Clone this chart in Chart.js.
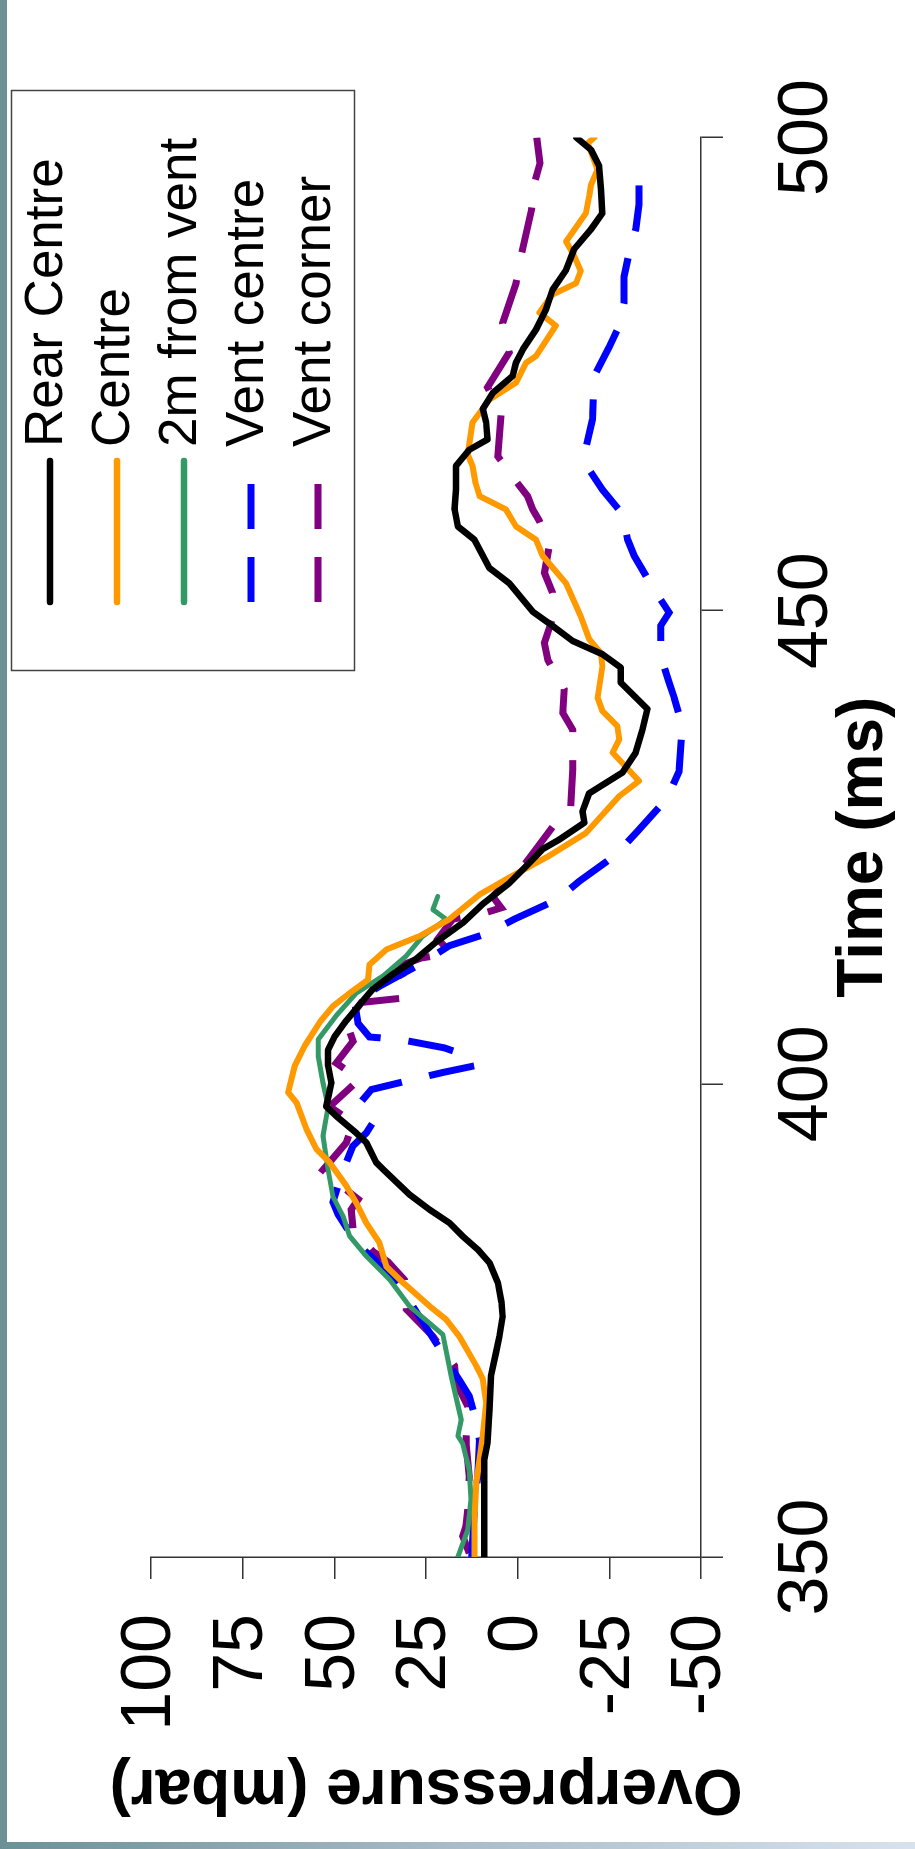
<!DOCTYPE html>
<html>
<head>
<meta charset="utf-8">
<script src="https://cdn.jsdelivr.net/npm/chart.js@4.4.1/dist/chart.umd.min.js"></script>
<style>
  html, body { margin: 0; padding: 0; background: #fff; }
  body { width: 915px; height: 1849px; position: relative; overflow: hidden; }
  #rot {
    position: absolute; left: 0; top: 0;
    width: 1849px; height: 915px;
    transform-origin: 0 0;
    transform: translateY(1849px) rotate(-90deg);
  }
  #c { display: block; width: 1849px; height: 915px; }
  .edgeLeft { position: absolute; left: 0; top: 0; width: 7px; height: 1849px; background: #6b9196; }
  .edgeBottom { position: absolute; left: 0; bottom: 0; width: 915px; height: 7px;
    background: linear-gradient(to right, #6b9196, #a9bcc8 50%, #d8e2ec); }
</style>
</head>
<body>
<div id="rot"><canvas id="c" width="1849" height="915"></canvas></div>
<div class="edgeLeft"></div>
<div class="edgeBottom"></div>
<script>
// axis ticks
const timeTicks = [350, 400, 450, 500];
const pressureTicks = [-50, -25, 0, 25, 50, 75, 100];

// Rear Centre
const rearT = [350, 354, 358, 360.3, 362.1, 365.6, 369.1, 371.6, 373.3, 375.4, 376.9, 379, 381.1, 382.5, 383.9, 385.3,
  386.7, 388.3, 390.9, 391.7, 393.8, 394.8, 396.6, 397.6, 400.1, 401.9, 403.6, 405, 406.7, 408.2, 410, 411.6, 413.2,
  415, 417, 419, 421.2, 423, 424.8, 425.8, 427.6, 428.8, 430.7, 432.9, 435, 437.4, 439.6, 442.4, 444, 445.4, 446.8,
  448.4, 449.9, 452.9, 454.5, 457.5, 458.9, 460.7, 462.8, 465.3, 467, 468.1, 469.9, 471.3, 473, 474.8, 476.2, 477.6,
  479.7, 481.8, 483.9, 486, 488.2, 490.3, 492, 494.5, 497, 498.7, 500];
const rearV = [9.1, 9.1, 9.1, 9.1, 8.2, 7.7, 7.3, 5.9, 5.0, 4.1, 4.4, 5.4, 7.7, 10.9, 15.0, 18.6,
  24.0, 29.5, 36.5, 38.6, 41.3, 44.0, 49.5, 52.2, 50.8, 51.7, 51.7, 49.9, 46.7, 43.5, 39.5, 34.0, 27.7,
  22.2, 15.0, 9.5, 2.3, -2.3, -6.8, -11.3, -18.2, -17.7, -19.5, -28.6, -32.2, -34.0, -35.4, -28.1, -28.1, -23.1, -15.0,
  -9.5, -4.1, 2.3, 7.7, 11.8, 16.3, 17.2, 16.8, 16.8, 13.2, 8.2, 8.6, 9.5, 6.8, 1.4, 0.45, -1.4,
  -5.0, -7.7, -9.5, -13.2, -15.4, -20.0, -23.1, -22.7, -22.2, -20.0, -16.0];

// Centre
const centreT = [350, 354, 357.8, 362.8, 366.3, 368.8, 370.2, 373.3, 375.1, 376.5, 379, 380.7, 383.2, 385.3, 387.4,
  389.2, 391.7, 393.1, 395.2, 398, 399.1, 401.9, 404, 406.5, 408.2, 409.6, 411, 412.6, 414.2, 415.6, 417.4, 420,
  421.8, 424.1, 426.5, 430.4, 432, 435, 436.4, 437.8, 439.4, 440.8, 444.1, 445.5, 447, 449.4, 452.9, 455.8, 457.5,
  458.9, 460.7, 462.1, 463.5, 465.3, 466.5, 469.9, 472.3, 474.1, 476.2, 476.9, 480.1, 481.5, 483.4, 484.6, 485.9,
  487.8, 489, 492, 493.8, 495, 496.6, 499.4, 500];
const centreV = [11.8, 11.8, 11.3, 9.5, 8.6, 9.5, 11.3, 15.9, 19.5, 24.0, 31.3, 35.8, 37.7, 41.3, 44.0,
  46.7, 51.3, 54.9, 57.6, 60.3, 62.6, 60.8, 58.1, 54.0, 50.4, 45.8, 40.8, 40.4, 35.8, 26.8, 18.6, 10.4,
  2.3, -8.6, -18.6, -27.7, -33.1, -25.9, -27.7, -27.2, -23.1, -21.8, -23.1, -22.7, -19.5, -17.2, -13.2, -6.8, -5.0,
  0.45, 3.2, 10.4, 11.5, 12.3, 13.6, 12.3, 7.7, 0.45, -2.3, -5.0, -10.4, -5.9, -9.5, -15.9, -17.2,
  -15.0, -13.2, -18.6, -19.5, -20.0, -21.8, -19.1, -20.9];

// 2m from vent
const twoMT = [350, 352.9, 356.1, 359.2, 362, 362.8, 364.5, 369.1, 373.5, 374.7, 376.5, 379.3, 381.8, 383.9, 386,
  388.1, 390.9, 394.5, 397.6, 400.1, 402.9, 404.7, 407.2, 409.6, 411.4, 413.5, 415.6, 417.4, 418.4, 419.8];
const twoMV = [16.3, 13.6, 12.7, 13.2, 15.0, 16.3, 15.4, 18.1, 20.4, 24.0, 29.5, 34.9, 41.3, 45.8, 47.6,
  50.4, 51.7, 53.1, 51.7, 53.1, 54.4, 54.4, 49.5, 44.0, 36.7, 30.4, 25.9, 19.5, 23.1, 21.8];

// Vent centre
const ventCentreT = [350, 351.5, 355, 358.5, 362.4, 365, 367, 368.7, 370.5, 372.6, 376.5, 379.3, 381.2, 383.2, 386.2,
  387.5, 390.4, 393.4, 394.8, 395.9, 396.8, 398.2, 399.4, 400.5, 401.2, 401.9, 402.9, 403.8, 404.7, 404.95, 406.4,
  408.7, 410.3, 412.6, 414.6, 415.9, 417.4, 419.5, 421.4, 424.2, 426.7, 430.2, 433, 437.8, 440.8, 442.4, 445.2,
  448.4, 449.8, 452.8, 455.8, 457.5, 460.2, 462.8, 464.9, 467.2, 470.2, 474.8, 477.9, 480.1, 482.5, 485.3, 487.8,
  490.3, 492.9, 495.2, 496.8, 497.5];
const ventCentreV = [12.5, 12.3, 11.8, 10.9, 10.4, 11.8, 13.2, 15.9, 19.0, 22.2, 28.6, 34.0, 38.5, 44.0, 49.0,
  50.4, 48.1, 45.0, 41.3, 39.5, 42.2, 42.5, 39.9, 28.1, 20.4, 11.8, 13.2, 20.0, 32.2, 40.4, 43.5,
  44.5, 37.7, 26.8, 18.6, 8.2, 0.9, -10.9, -16.8, -26.8, -32.7, -40.8, -44.0, -44.9, -42.7, -41.3, -39.0,
  -39.0, -41.3, -36.3, -31.8, -30.0, -28.6, -23.1, -19.5, -18.6, -20.4, -20.9, -25.0, -27.7, -29.0, -29.0, -30.4,
  -32.2, -33.1, -33.1, -34.9, -34.0];

// Vent corner
const ventCornerT = [350.4, 352.2, 353.3, 355, 357, 358.5, 362.1, 365.9, 368.4, 370.2, 373.3, 376.2, 379.3, 381.2,
  382.3, 384.6, 386.7, 387.8, 388.5, 390.9, 393.8, 395.9, 397.6, 400.5, 402.2, 404.5, 406.5, 408.6, 409.1, 410.7,
  412.4, 413.3, 413.8, 415.3, 417.4, 418.1, 418.6, 419.8, 421.3, 423.4, 424.8, 427.6, 429.3, 433.2, 437.4, 439.2,
  441.7, 444.8, 446.6, 449.2, 451.9, 454, 456.8, 459.5, 460.7, 462.1, 463.9, 466.3, 470.9, 473.6, 477.3, 480.4,
  484.6, 487.8, 492.4, 495.4, 497.3, 500];
const ventCornerV = [13.2, 15.0, 14.1, 13.6, 13.4, 13.2, 14.1, 13.6, 16.8, 17.2, 23.1, 30.4, 30.9, 35.4,
  39.5, 44.9, 45.4, 43.5, 45.8, 53.1, 46.7, 44.9, 51.3, 43.1, 49.5, 44.9, 46.7, 42.6, 30.4, 30.4,
  32.7, 26.3, 18.1, 21.8, 17.7, 8.6, 4.5, 6.8, 3.2, -2.3, -5.0, -10.4, -14.5, -15.0, -15.0, -12.3,
  -12.7, -8.2, -7.3, -9.5, -9.5, -7.3, -8.6, -5.9, -4.1, -2.7, 0.9, 5.4, 4.5, 8.2, 2.3, 4.1,
  0.45, -1.1, -3.8, -4.7, -6.1, -5.2];

const FONT = '"Liberation Sans", Arial, Helvetica, sans-serif';

function pts(ts, vs) {
  return ts.map((t, i) => ({ x: t, y: vs[i] }));
}

// boxed legend sitting over the upper right corner of the plot
const boxLegend = {
  id: 'boxLegend',
  afterDraw(chart) {
    const ctx = chart.ctx;
    ctx.save();
    ctx.fillStyle = '#fff';
    ctx.fillRect(1178, 11, 580, 343);
    ctx.strokeStyle = '#444';
    ctx.lineWidth = 1.5;
    ctx.strokeRect(1178.5, 11.5, 580, 343);
    ctx.font = '53px ' + FONT;
    ctx.textBaseline = 'middle';
    chart.data.datasets.forEach((ds, i) => {
      const y = 50 + i * 67;
      const dashed = !!ds.borderDash;
      ctx.beginPath();
      ctx.setLineDash(dashed ? [45, 28] : []);
      ctx.lineCap = dashed ? 'butt' : 'round';
      ctx.strokeStyle = ds.borderColor;
      ctx.lineWidth = dashed ? 7 : 6.5;
      ctx.moveTo(1247, y);
      ctx.lineTo(1388, y);
      ctx.stroke();
      ctx.setLineDash([]);
      ctx.fillStyle = '#000';
      ctx.fillText(ds.label, 1402, y - 3);
    });
    ctx.restore();
  }
};

function lineSet(label, data, color, width, dash) {
  return {
    label,
    data,
    borderColor: color,
    backgroundColor: color,
    borderWidth: width,
    borderDash: dash,
    borderCapStyle: dash ? 'butt' : 'round',
    borderJoinStyle: dash ? 'miter' : 'round',
    pointRadius: 0,
    tension: 0,
    fill: false
  };
}

new Chart(document.getElementById('c'), {
  type: 'line',
  data: {
    datasets: [
      lineSet('Rear Centre', pts(rearT, rearV), '#000000', 6.5),
      lineSet('Centre', pts(centreT, centreV), '#ff9900', 6),
      lineSet('2m from vent', pts(twoMT, twoMV), '#339966', 5),
      lineSet('Vent centre', pts(ventCentreT, ventCentreV), '#0000ff', 7, [46, 28]),
      lineSet('Vent corner', pts(ventCornerT, ventCornerV), '#800080', 7, [46, 28])
    ]
  },
  options: {
    responsive: false,
    animation: false,
    devicePixelRatio: 1,
    layout: { padding: { top: 151, right: 137.5, bottom: 0, left: 0 } },
    plugins: { legend: { display: false }, tooltip: { enabled: false } },
    scales: {
      x: {
        type: 'linear',
        min: timeTicks[0],
        max: timeTicks[timeTicks.length - 1],
        afterBuildTicks: s => { s.ticks = timeTicks.map(v => ({ value: v })); },
        afterFit: s => { s.height = 214; },
        ticks: { color: '#000', padding: 43, maxRotation: 0, font: { family: FONT, size: 70 } },
        grid: { drawOnChartArea: false, drawTicks: true, tickLength: 22, color: '#333', lineWidth: 1.5 },
        border: { display: true, color: '#333', width: 1.5 },
        title: { display: true, text: 'Time (ms)', color: '#000',
          font: { family: FONT, size: 64, weight: 'bold' }, padding: { top: 0, bottom: 12 } }
      },
      y: {
        min: pressureTicks[0],
        max: pressureTicks[pressureTicks.length - 1],
        afterBuildTicks: s => { s.ticks = pressureTicks.map(v => ({ value: v })); },
        afterFit: s => { s.width = 292; },
        ticks: { color: '#000', padding: 35, font: { family: FONT, size: 70 } },
        grid: { drawOnChartArea: false, drawTicks: true, tickLength: 22, color: '#333', lineWidth: 1.5 },
        border: { display: true, color: '#333', width: 1.5 },
        title: { display: true, text: 'Overpressure (mbar)', color: '#000',
          font: { family: FONT, size: 64, weight: 'bold' }, padding: { top: 23, bottom: 0 } }
      }
    }
  },
  plugins: [boxLegend]
});
</script>
</body>
</html>
